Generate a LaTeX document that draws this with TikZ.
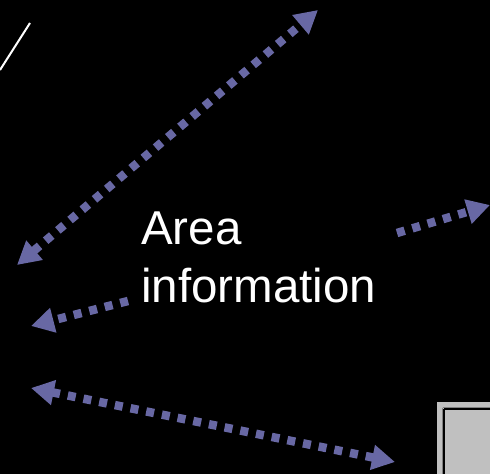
\documentclass[tikz,border=0pt]{standalone}
\usepackage{fontspec}
\setmainfont{Liberation Sans}
\usetikzlibrary{arrows.meta}
\definecolor{flow}{RGB}{104,104,164}
\definecolor{panelgray}{RGB}{192,192,192}
\definecolor{paneledge}{RGB}{128,128,128}
\tikzset{
  flowarrow/.style={draw=flow, line width=8.5bp, dash pattern=on 8bp off 8bp,
    line cap=butt},
  label/.style={text=white, font=\fontsize{47.5bp}{58bp}\selectfont, align=left,
    inner sep=0pt, anchor=north west}
}
\begin{document}
\begin{tikzpicture}[x=1bp, y=-1bp]
  % black backdrop
  \fill[black] (0,0) rectangle (490,474);
  \useasboundingbox (0,0) rectangle (490,474);

  % thin white stroke in the upper left
  \coordinate (wa) at (0,70);
  \coordinate (wb) at (30,23);
  \draw[white, line width=2bp] (wa) -- (wb);

  % grey panel in the lower right corner
  \coordinate (pa) at (437,402);
  \coordinate (pb) at (495,480);
  \fill[panelgray] (pa) rectangle (pb);
  \draw[paneledge, line width=1bp] (442.5,407.5) -- (442.5,480);
  \draw[paneledge, line width=1bp] (442.5,407.5) -- (495,407.5);
  \draw[black, line width=1.2bp] (444,409) -- (444,480);
  \draw[black, line width=1.2bp] (444,409) -- (495,409);

  % text label
  \node[label] (info) at (141,212) {Area\\information};

  % arrow end points
  \coordinate (a1s) at (17,265);
  \coordinate (a1e) at (318,10);
  \coordinate (a2s) at (397,233);
  \coordinate (a2e) at (490,205);
  \coordinate (a3s) at (128,301);
  \coordinate (a3e) at (31,326);
  \coordinate (a4s) at (31,388);
  \coordinate (a4e) at (395,462);

  % dotted flow arrows
  \draw[flowarrow, {Triangle[length=23bp, width=24bp]}-{Triangle[length=23bp, width=24bp]}] (a1s) -- (a1e);
  \draw[flowarrow, -{Triangle[length=23bp, width=24bp]}] (a2s) -- (a2e);
  \draw[flowarrow, -{Triangle[length=23bp, width=24bp]}] (a3s) -- (a3e);
  \draw[flowarrow, {Triangle[length=23bp, width=24bp]}-{Triangle[length=23bp, width=24bp]}] (a4s) -- (a4e);
\end{tikzpicture}
\end{document}
